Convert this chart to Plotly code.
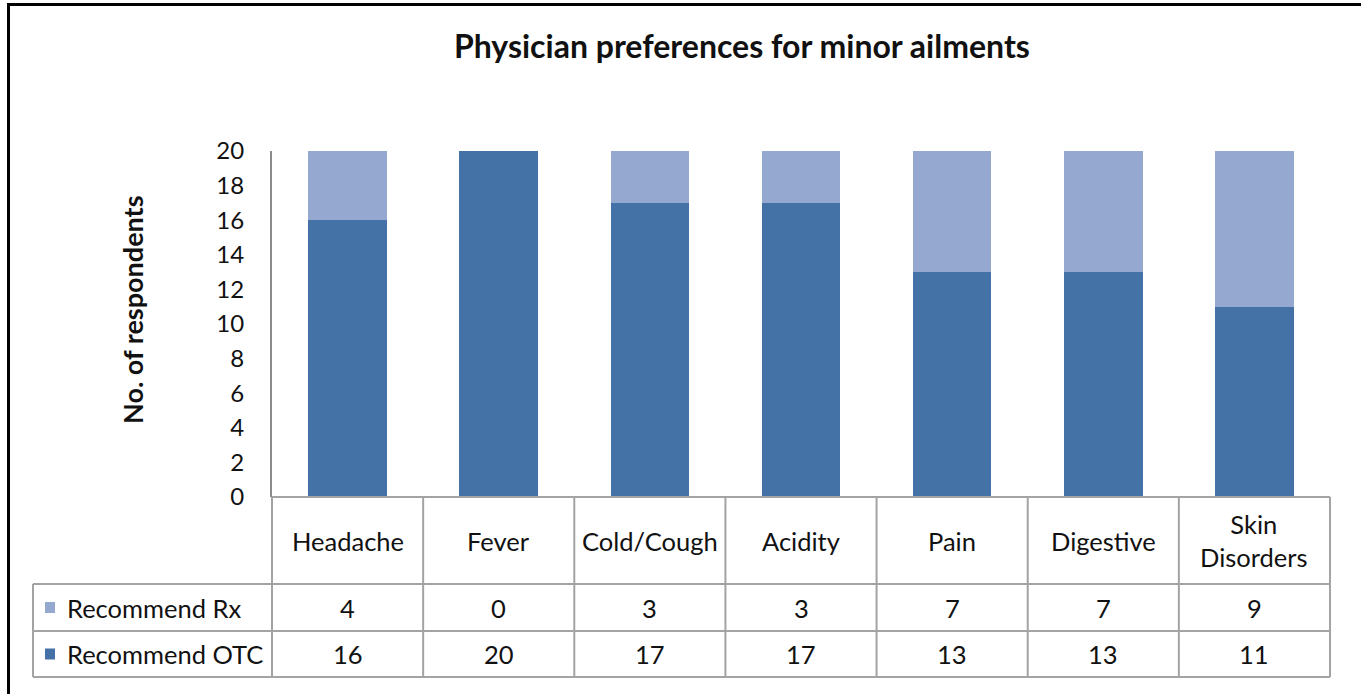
import plotly.graph_objects as go

categories = ["Headache", "Fever", "Cold/Cough", "Acidity", "Pain", "Digestive", "Skin Disorders"]
category_labels = ["Headache", "Fever", "Cold/Cough", "Acidity", "Pain", "Digestive", "Skin<br>Disorders"]
rx_values = [4, 0, 3, 3, 7, 7, 9]
otc_values = [16, 20, 17, 17, 13, 13, 11]
series_names = ["Recommend Rx", "Recommend OTC"]
series_colors = ["#95A9D0", "#4472A6"]
y_ticks = [0, 2, 4, 6, 8, 10, 12, 14, 16, 18, 20]

W, H = 1361, 694
L, R, T, B = 272, 1330, 151, 497
pw, ph = R - L, B - T

def dx(px):
    return (px - L) / pw

def dy(py):
    return (B - py) / ph

FONT = "Lato"
GRID = "#A3A3A3"
TXT = "#111111"

fig = go.Figure()
fig.add_trace(go.Bar(x=categories, y=otc_values, name=series_names[1],
                     marker=dict(color=series_colors[1], line=dict(width=0))))
fig.add_trace(go.Bar(x=categories, y=rx_values, name=series_names[0],
                     marker=dict(color=series_colors[0], line=dict(width=0))))

shapes = []
annotations = []

# table grid
n = len(categories)
row_tops = [dy(497), dy(584), dy(631), dy(677)]
leg_left = dx(33)
shapes.append(dict(type="line", xref="x domain", yref="y domain", x0=0, x1=1,
                   y0=row_tops[0], y1=row_tops[0], line=dict(color=GRID, width=2)))
for yv in row_tops[1:]:
    shapes.append(dict(type="line", xref="x domain", yref="y domain", x0=leg_left, x1=1,
                       y0=yv, y1=yv, line=dict(color=GRID, width=2)))
for i in range(n + 1):
    shapes.append(dict(type="line", xref="x domain", yref="y domain", x0=i / n, x1=i / n,
                       y0=row_tops[0], y1=row_tops[3], line=dict(color=GRID, width=2)))
shapes.append(dict(type="line", xref="x domain", yref="y domain", x0=leg_left, x1=leg_left,
                   y0=row_tops[1], y1=row_tops[3], line=dict(color=GRID, width=2)))

cat_y = (row_tops[0] + row_tops[1]) / 2
rx_y = (row_tops[1] + row_tops[2]) / 2
otc_y = (row_tops[2] + row_tops[3]) / 2
for c, lab in zip(categories, category_labels):
    annotations.append(dict(x=c, xref="x", y=cat_y, yref="y domain", text=lab, showarrow=False,
                            font=dict(family=FONT, size=25.5, color=TXT), align="center",
                            xanchor="center", yanchor="middle"))
for row_y, vals in ((rx_y, rx_values), (otc_y, otc_values)):
    for c, v in zip(categories, vals):
        annotations.append(dict(x=c, xref="x", y=row_y, yref="y domain", text=str(v), showarrow=False,
                                font=dict(family=FONT, size=25.5, color=TXT),
                                xanchor="center", yanchor="middle"))

for row_y, name, col in ((rx_y, series_names[0], series_colors[0]), (otc_y, series_names[1], series_colors[1])):
    half = 5.5 / ph
    shapes.append(dict(type="rect", xref="x domain", yref="y domain", x0=dx(45), x1=dx(55),
                       y0=row_y - half, y1=row_y + half, fillcolor=col, line=dict(width=0)))
    annotations.append(dict(x=dx(65), xref="x domain", y=row_y, yref="y domain", text=name,
                            showarrow=False, font=dict(family=FONT, size=25.5, color=TXT),
                            xanchor="left", yanchor="middle"))

# outer border (left and top)
shapes.append(dict(type="line", xref="paper", yref="paper", x0=dx(8.5), x1=dx(8.5), y0=dy(3), y1=dy(700),
                   line=dict(color="black", width=3)))
shapes.append(dict(type="line", xref="paper", yref="paper", x0=dx(7), x1=dx(1370), y0=dy(4.5), y1=dy(4.5),
                   line=dict(color="black", width=3)))

annotations.append(dict(x=dx(741.5), xref="paper", y=dy(45), yref="paper",
                        text="<b>Physician preferences for minor ailments</b>", showarrow=False,
                        font=dict(family=FONT, size=32, color=TXT), xanchor="center", yanchor="middle"))
annotations.append(dict(x=dx(132), xref="paper", y=dy(310), yref="paper",
                        text="<b>No. of respondents</b>", showarrow=False, textangle=-90,
                        font=dict(family=FONT, size=27, color=TXT), xanchor="center", yanchor="middle"))

fig.update_layout(
    width=W, height=H,
    margin=dict(l=L, r=W - R, t=T, b=H - B, pad=0),
    barmode="stack", bargap=0.48,
    showlegend=False,
    plot_bgcolor="white", paper_bgcolor="white",
    shapes=shapes, annotations=annotations,
    xaxis=dict(showticklabels=False, ticks="", showgrid=False, zeroline=False, showline=False,
               range=[-0.5, n - 0.5]),
    yaxis=dict(range=[0, 20], tickvals=y_ticks, ticks="", showgrid=False, zeroline=False,
               showline=True, linecolor="#8C8C8C", linewidth=2, ticklabelstandoff=21,
               tickfont=dict(family=FONT, size=24, color=TXT)),
)

fig.write_html("out.html", config={"displayModeBar": False},
               post_script="document.body.style.margin='0px';document.body.style.overflow='hidden';")
